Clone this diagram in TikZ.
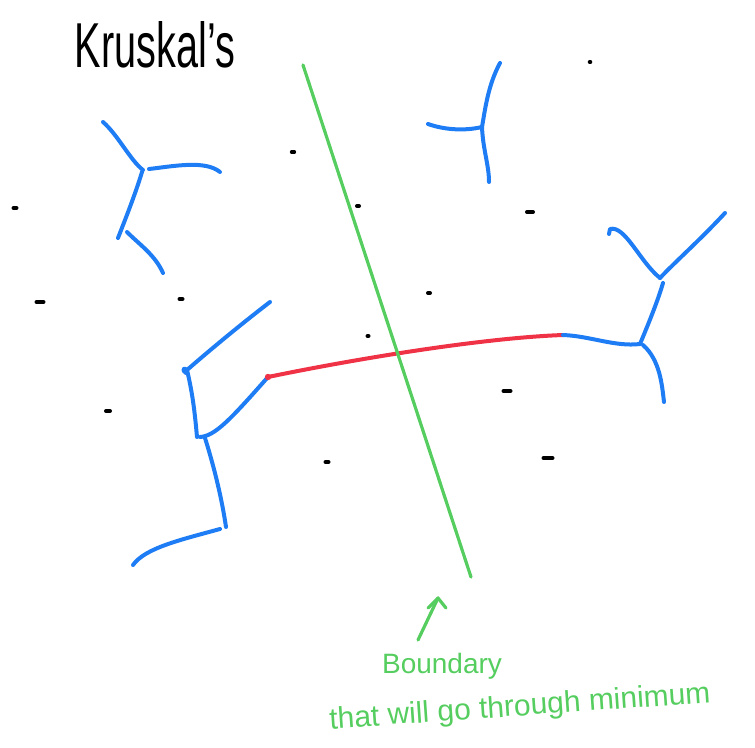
\documentclass[tikz,border=0pt]{standalone}
\usepackage{fontspec}
\setmainfont{Liberation Sans}
\definecolor{sketchblue}{RGB}{30,125,245}
\definecolor{sketchred}{RGB}{240,50,70}
\definecolor{sketchgreen}{RGB}{85,205,95}
\begin{document}
\begin{tikzpicture}[x=1pt,y=-1pt,
  blueline/.style={sketchblue, line width=4pt, line cap=round, line join=round},
  redline/.style={sketchred, line width=4pt, line cap=round, line join=round},
  greenline/.style={sketchgreen, line width=3.2pt, line cap=round, line join=round},
  dotmark/.style={black, line width=4pt, line cap=round},
  greentext/.style={text=sketchgreen, inner sep=0pt}]
\useasboundingbox (0,0) rectangle (755,747);

% title
\node[inner sep=0pt] (title) at (155,45) {\resizebox{160pt}{46pt}{Kruskal's}};

% points (black marks)
\foreach \name/\px/\py/\w in {p1/293/152/1.2, p2/590/62/0.3, p3/15/208/1.5, p4/358/206/1,
  p5/530/212/3, p6/40/302/3.5, p7/181/299/1.5, p8/429/293/1, p9/368/336/0.5,
  p10/108/411/2, p11/507/391/3.5, p12/327/462/1.5, p13/548/458/4.5}
  {\coordinate (\name) at (\px,\py);
   \draw[dotmark] ([xshift=-\w pt]\name) -- ([xshift=\w pt]\name);}

% cluster top-left
\coordinate (a0) at (103,122); \coordinate (a1) at (143,170);
\coordinate (a2) at (149,169); \coordinate (a3) at (220,172);
\coordinate (a4) at (142,172); \coordinate (a5) at (118,238);
\coordinate (a6) at (127,232); \coordinate (a7) at (163,273);
\draw[blueline] (a0) .. controls (118,135) and (130,160) .. (a1);
\draw[blueline] (a2) .. controls (175,166) and (205,160) .. (a3);
\draw[blueline] (a4) .. controls (135,195) and (125,220) .. (a5);
\draw[blueline] (a6) .. controls (140,245) and (155,255) .. (a7);

% cluster left-middle
\coordinate (b0) at (270,302); \coordinate (b1) at (187,370);
\coordinate (b2) at (197,437); \coordinate (b3) at (200,437);
\coordinate (b4) at (268,377); \coordinate (b5) at (205,438);
\coordinate (b6) at (226,527); \coordinate (b7) at (220,529);
\coordinate (b8) at (133,565);
\draw[blueline] (b0) .. controls (240,325) and (210,350) .. (b1)
  .. controls (183,366) and (182,371) .. (186,373);
\draw[blueline] (b1) .. controls (193,395) and (195,415) .. (b2);
\draw[blueline] (b3) .. controls (215,436) and (230,420) .. (b4);
\draw[blueline] (b5) .. controls (215,470) and (222,500) .. (b6);
\draw[blueline] (b7) .. controls (180,540) and (145,548) .. (b8);

% red edge crossing the cut
\coordinate (c1) at (563,335);
\draw[redline] (b4) .. controls (350,360) and (480,338) .. (c1);
\fill[sketchred] (b4) circle (3.2pt);

% cluster right
\coordinate (d0) at (640,344); \coordinate (d1) at (663,283);
\coordinate (d2) at (643,345); \coordinate (d3) at (664,402);
\coordinate (d4) at (609,234); \coordinate (d5) at (660,278);
\coordinate (d6) at (725,213);
\draw[blueline] (c1) .. controls (590,336) and (615,347) .. (d0);
\draw[blueline] (d0) .. controls (650,320) and (658,300) .. (d1);
\draw[blueline] (d2) .. controls (660,360) and (662,385) .. (d3);
\draw[blueline] (d4) -- (610,229) .. controls (625,225) and (640,262) .. (d5);
\draw[blueline] (d6) .. controls (700,240) and (675,262) .. (d5);

% cluster top
\coordinate (e0) at (500,63); \coordinate (e1) at (482,127);
\coordinate (e2) at (428,124); \coordinate (e3) at (489,182);
\draw[blueline] (e0) .. controls (488,85) and (485,110) .. (e1);
\draw[blueline] (e2) .. controls (445,130) and (465,131) .. (e1);
\draw[blueline] (e1) .. controls (483,150) and (489,165) .. (e3);

% boundary (cut)
\coordinate (g0) at (303,65); \coordinate (g1) at (471,577);
\draw[greenline] (g0) -- (g1);

% arrow to the boundary
\coordinate (h0) at (418,640); \coordinate (h1) at (438,598);
\draw[greenline] (h0) -- (h1);
\draw[greenline] (428,608) -- (h1) -- (446,608);

% labels
\node[greentext, font=\fontsize{28}{30}\selectfont] (lab1) at (442,666) {Boundary};
\node[greentext, font=\fontsize{30}{32}\selectfont, rotate=4] (lab2) at (520,708) {that will go through minimum};
\end{tikzpicture}
\end{document}
